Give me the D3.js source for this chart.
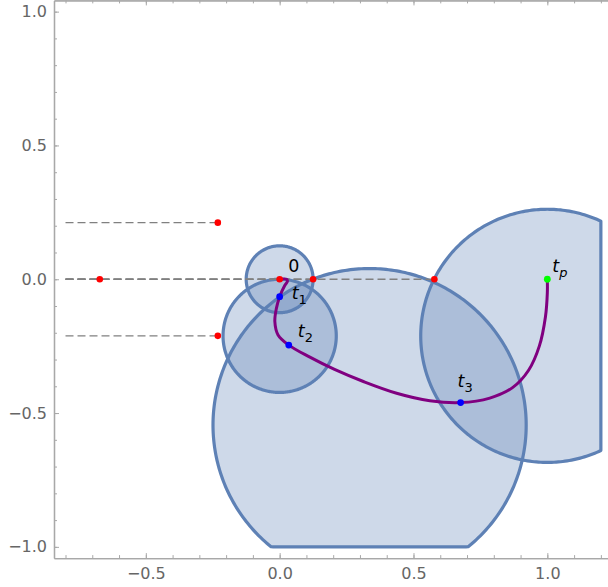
<!DOCTYPE html>
<html>
<head>
<meta charset="utf-8">
<script src="https://cdn.jsdelivr.net/npm/d3@7"></script>
<style>
  body { margin: 0; background: #fff; }
  svg { display: block; }
  .tick text { font-family: "DejaVu Sans", sans-serif; fill: #666; }
  .label { font-family: "DejaVu Sans", sans-serif; fill: #000; }
</style>
</head>
<body>
<svg id="chart" width="608" height="587"></svg>
<script>
// disc regions: centre, radius (the plot cuts them at x = 1.2 and y = -1)
const discX = [0.336, 1.0, 0, 0];
const discY = [-0.545, -0.2115, -0.2115, 0];
const discR = [0.585, 0.473, 0.2115, 0.125];
const clipXMax = 1.2;
const clipYMin = -1.0;

// path of the point, through t1, t2, t3 to tp
const pathX = [0, 0.026, 0.029, 0.019, 0, -0.012, -0.018, -0.006, 0.034, 0.113, 0.205, 0.315,
  0.437, 0.561, 0.676, 0.785, 0.87, 0.93, 0.97, 0.993, 1.0, 1.0];
const pathY = [0, 0, -0.008, -0.023, -0.065, -0.108, -0.158, -0.208, -0.246, -0.291, -0.337, -0.383,
  -0.426, -0.454, -0.461, -0.444, -0.405, -0.34, -0.25, -0.14, -0.05, 0];

// red reference points
const redX = [-0.672, -0.231, -0.231, 0, 0.125, 0.578];
const redY = [0, 0.2115, -0.2115, 0, 0, 0];

// marked times on the path
const markNames = ['t1', 't2', 't3'];
const markX = [0, 0.034, 0.676];
const markY = [-0.065, -0.246, -0.461];
const endX = 1.0;
const endY = 0;

// dashed guide lines start at x = -0.8
const guideStart = -0.8;
const guideEndX = [-0.231, -0.231, -0.672, 0, 0.125, 0.578];
const guideY = [0.2115, -0.2115, 0, 0, 0, 0];

const majorTicks = [-1, -0.5, 0, 0.5, 1];
const xMajorTicks = [-0.5, 0, 0.5, 1];

const svg = d3.select('#chart');
const x = d3.scaleLinear().domain([-0.843, 1.23]).range([54, 608.9]);
const y = d3.scaleLinear().domain([-1.042, 1.042]).range([558.1, 0.4]);

const edge = '#5e81b5';
const frameColor = '#a8a8a8';

// regions
const discPath = (cx, cy, r) => {
  const pts = d3.range(0, 360, 1).map(a => {
    const t = a * Math.PI / 180;
    const px = Math.min(cx + r * Math.cos(t), clipXMax);
    const py = Math.max(cy + r * Math.sin(t), clipYMin);
    return [x(px), y(py)];
  });
  return d3.line().curve(d3.curveLinearClosed)(pts);
};
const discs = discX.map((d, i) => discPath(discX[i], discY[i], discR[i]));

svg.append('g').selectAll('path')
  .data(discs)
  .join('path')
    .attr('d', d => d)
    .attr('fill', edge)
    .attr('fill-opacity', 0.3);
svg.append('g').selectAll('path')
  .data(discs)
  .join('path')
    .attr('d', d => d)
    .attr('fill', 'none')
    .attr('stroke', edge)
    .attr('stroke-width', 3.2)
    .attr('stroke-linejoin', 'round');

// dashed guides
svg.append('g')
  .attr('stroke', '#808080')
  .attr('stroke-width', 1.4)
  .attr('stroke-dasharray', '8,4')
  .selectAll('line')
  .data(guideEndX)
  .join('line')
    .attr('x1', x(guideStart))
    .attr('x2', d => x(d))
    .attr('y1', (d, i) => y(guideY[i]))
    .attr('y2', (d, i) => y(guideY[i]));

// frame
const frame = svg.append('g');
frame.append('g')
  .attr('transform', `translate(${x.range()[0]},0)`)
  .call(d3.axisLeft(y).tickValues(majorTicks).tickFormat(d3.format('.1f'))
    .tickSizeInner(-5).tickSizeOuter(0).tickPadding(7));
frame.append('g')
  .attr('transform', `translate(${x.range()[0]},0)`)
  .call(d3.axisLeft(y).tickValues(d3.range(-10, 11).map(v => v / 10)).tickFormat('')
    .tickSizeInner(-3).tickSizeOuter(0));
frame.append('g')
  .attr('transform', `translate(0,${y.range()[0]})`)
  .call(d3.axisBottom(x).tickValues(xMajorTicks).tickFormat(d3.format('.1f'))
    .tickSizeInner(-5).tickSizeOuter(0).tickPadding(10));
frame.append('g')
  .attr('transform', `translate(0,${y.range()[0]})`)
  .call(d3.axisBottom(x).tickValues(d3.range(-8, 13).map(v => v / 10)).tickFormat('')
    .tickSizeInner(-3).tickSizeOuter(0));
frame.append('g')
  .attr('transform', `translate(0,${y.range()[1]})`)
  .call(d3.axisTop(x).tickValues(xMajorTicks).tickFormat('')
    .tickSizeInner(-5).tickSizeOuter(0));
frame.append('g')
  .attr('transform', `translate(0,${y.range()[1]})`)
  .call(d3.axisTop(x).tickValues(d3.range(-8, 13).map(v => v / 10)).tickFormat('')
    .tickSizeInner(-3).tickSizeOuter(0));
frame.selectAll('.domain').attr('stroke', frameColor).attr('stroke-width', 1.3);
frame.selectAll('.tick line').attr('stroke', frameColor);
frame.selectAll('.tick text').attr('font-size', 16).attr('fill', '#666');

// path
svg.append('path')
  .datum(pathX.map((d, i) => [pathX[i], pathY[i]]))
  .attr('d', d3.line().x(d => x(d[0])).y(d => y(d[1])).curve(d3.curveCatmullRom.alpha(0.5)))
  .attr('fill', 'none')
  .attr('stroke', '#800080')
  .attr('stroke-width', 3)
  .attr('stroke-linecap', 'round');

// points
svg.append('g').selectAll('circle')
  .data(redX)
  .join('circle')
    .attr('cx', d => x(d))
    .attr('cy', (d, i) => y(redY[i]))
    .attr('r', 3.3)
    .attr('fill', '#ff0000');
svg.append('g').selectAll('circle')
  .data(markX)
  .join('circle')
    .attr('cx', d => x(d))
    .attr('cy', (d, i) => y(markY[i]))
    .attr('r', 3.4)
    .attr('fill', '#0000ff');
svg.append('circle')
  .attr('cx', x(endX))
  .attr('cy', y(endY))
  .attr('r', 3.4)
  .attr('fill', '#00ff00');

// labels
const addLabel = (px, py, dx, dy, main, sub) => {
  const t = svg.append('text')
    .attr('class', 'label')
    .attr('x', x(px) + dx)
    .attr('y', y(py) + dy)
    .attr('font-size', 17.5);
  if (sub === undefined) {
    t.text(main);
    return;
  }
  t.append('tspan').attr('font-style', 'italic').text(main);
  t.append('tspan').attr('font-size', 13).attr('dy', 5)
    .attr('font-style', sub === 'p' ? 'italic' : 'normal').text(sub);
};
addLabel(0, 0, 8.5, -7.5, '0');
markNames.forEach((n, i) => {
  const off = [[12, 2], [9, -8.5], [-3, -16]][i];
  addLabel(markX[i], markY[i], off[0], off[1], 't', n.slice(1));
});
addLabel(endX, endY, 5, -7.5, 't', 'p');
</script>
</body>
</html>
